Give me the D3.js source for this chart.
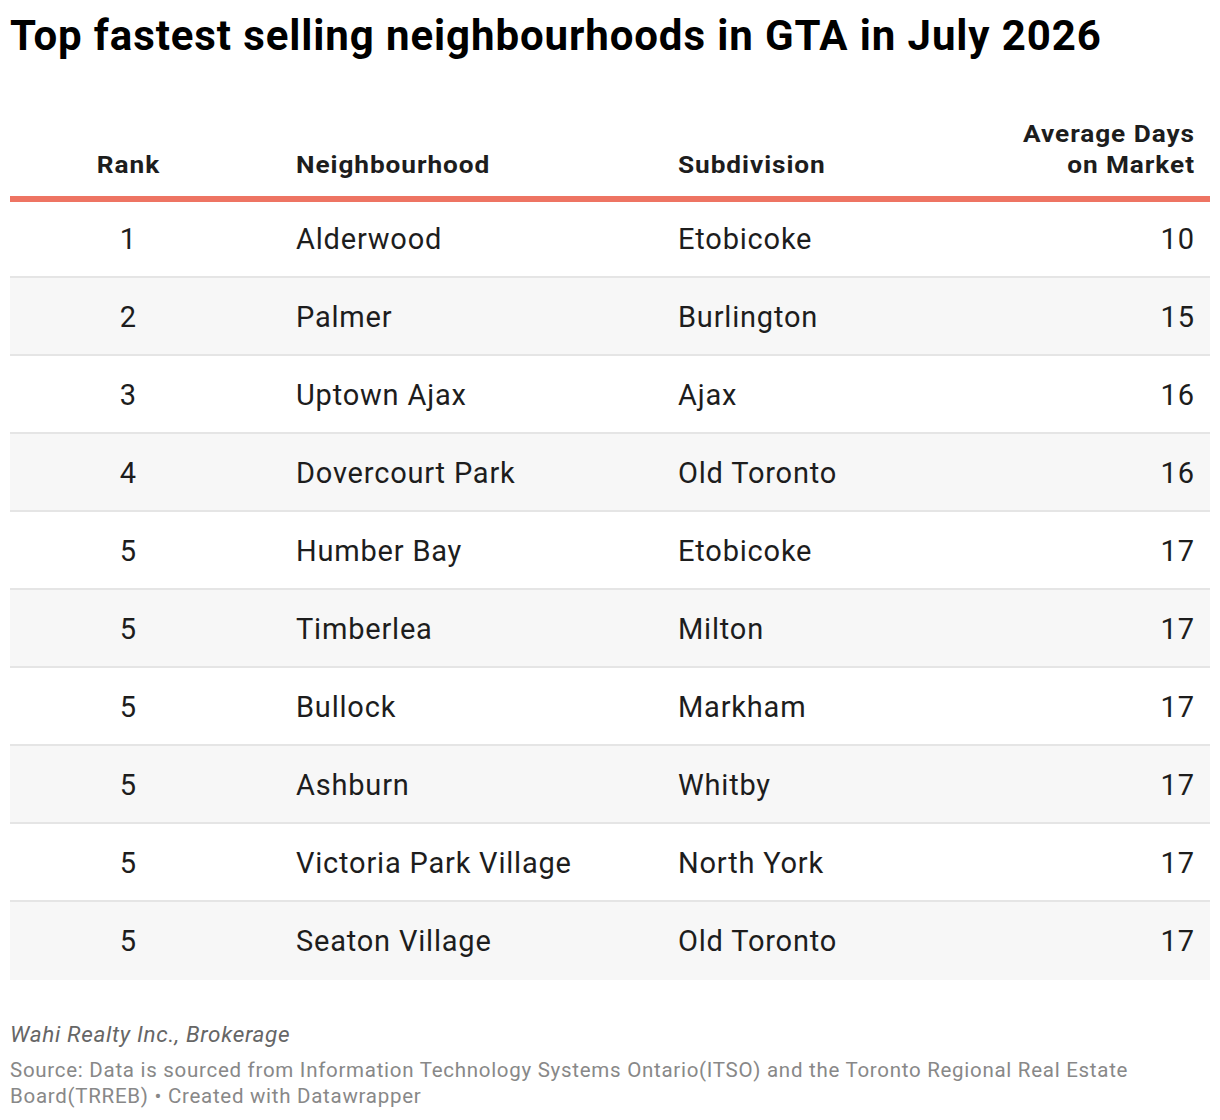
<!DOCTYPE html>
<html>
<head>
<meta charset="utf-8">
<script src="https://cdn.jsdelivr.net/npm/d3@7"></script>
<style>
  html, body { margin: 0; padding: 0; background: #fff; }
  svg { display: block; font-family: Roboto, "Noto Sans", sans-serif; }
</style>
</head>
<body>
<svg id="chart"></svg>
<script>
// Table data
const ranks = [1, 2, 3, 4, 5, 5, 5, 5, 5, 5];
const neighbourhoods = ['Alderwood', 'Palmer', 'Uptown Ajax', 'Dovercourt Park', 'Humber Bay',
  'Timberlea', 'Bullock', 'Ashburn', 'Victoria Park Village', 'Seaton Village'];
const subdivisions = ['Etobicoke', 'Burlington', 'Ajax', 'Old Toronto', 'Etobicoke',
  'Milton', 'Markham', 'Whitby', 'North York', 'Old Toronto'];
const avgDays = [10, 15, 16, 16, 17, 17, 17, 17, 17, 17];

const headers = ['Rank', 'Neighbourhood', 'Subdivision', ['Average Days', 'on Market']];
const title = 'Top fastest selling neighbourhoods in GTA in July 2026';
const byline = 'Wahi Realty Inc., Brokerage';
const sourceLines = [
  'Source: Data is sourced from Information Technology Systems Ontario(ITSO) and the Toronto Regional Real Estate',
  'Board(TRREB) \u2022 Created with Datawrapper'
];

const width = 1220, height = 1120;
const tableLeft = 10, tableRight = 1210;
const headTop = 200, rowH = 78;

const rows = ranks.map((r, i) => ({
  rank: r, hood: neighbourhoods[i], sub: subdivisions[i], days: avgDays[i], i
}));

const svg = d3.select('#chart')
  .attr('width', width)
  .attr('height', height);

// column positions
const cols = [
  { x: 128, anchor: 'middle', key: 'rank' },
  { x: 296, anchor: 'start', key: 'hood' },
  { x: 678, anchor: 'start', key: 'sub' },
  { x: 1194, anchor: 'end', key: 'days' }
];

// letter-spacing leaves a trailing gap, nudge anchored text back
const nudge = (anchor, ls) => anchor === 'end' ? ls : anchor === 'middle' ? ls / 2 : 0;

const y = d3.scaleBand()
  .domain(rows.map(d => d.i))
  .range([headTop, headTop + rowH * rows.length])
  .padding(0);

// title
svg.append('text')
  .attr('x', 10)
  .attr('y', 50)
  .attr('font-size', '42px')
  .attr('font-weight', 700)
  .attr('letter-spacing', '0.9px')
  .attr('fill', '#000')
  .text(title);

// header (glyphs a bit wider in the original, so stretch a little)
const headSX = 1.07, headLS = 0.88;
const head = svg.append('g').attr('class', 'header');
headers.forEach((h, c) => {
  const lines = Array.isArray(h) ? h : [h];
  lines.forEach((t, k) => {
    const hx = cols[c].x + nudge(cols[c].anchor, headLS * headSX);
    const hy = 173 - (lines.length - 1 - k) * 31;
    head.append('text')
      .attr('transform', `translate(${hx},${hy}) scale(${headSX},1)`)
      .attr('text-anchor', cols[c].anchor)
      .attr('font-size', '24.5px')
      .attr('font-weight', 700)
      .attr('letter-spacing', headLS + 'px')
      .attr('fill', '#1d1d1d')
      .text(t);
  });
});

// row backgrounds
const rowG = svg.append('g').selectAll('g.row')
  .data(rows)
  .join('g')
  .attr('class', 'row');

rowG.append('rect')
  .attr('x', tableLeft)
  .attr('y', d => y(d.i))
  .attr('width', tableRight - tableLeft)
  .attr('height', y.bandwidth())
  .attr('fill', d => d.i % 2 ? '#f7f7f7' : '#ffffff');

rowG.filter(d => d.i < rows.length - 1)
  .append('rect')
  .attr('x', tableLeft)
  .attr('y', d => y(d.i) + y.bandwidth() - 2)
  .attr('width', tableRight - tableLeft)
  .attr('height', 2)
  .attr('fill', '#e5e5e5');

const bodyLS = 0.8;
cols.forEach(c => {
  rowG.append('text')
    .attr('x', c.x + nudge(c.anchor, bodyLS))
    .attr('y', d => y(d.i) + y.bandwidth() / 2 + 10)
    .attr('text-anchor', c.anchor)
    .attr('font-size', '29px')
    .attr('letter-spacing', bodyLS + 'px')
    .attr('fill', '#1d1d1d')
    .text(d => d[c.key]);
});

// header rule
svg.append('rect')
  .attr('x', tableLeft)
  .attr('y', 196)
  .attr('width', tableRight - tableLeft)
  .attr('height', 6)
  .attr('fill', '#ee7463');

// footer
svg.append('text')
  .attr('x', 10)
  .attr('y', 1042)
  .attr('font-size', '22.5px')
  .attr('font-style', 'italic')
  .attr('letter-spacing', '0.67px')
  .attr('fill', '#666')
  .text(byline);

svg.append('g').selectAll('text')
  .data(sourceLines)
  .join('text')
  .attr('x', 10)
  .attr('y', (d, i) => 1077 + i * 26)
  .attr('font-size', '20.5px')
  .attr('letter-spacing', '0.72px')
  .attr('fill', '#888')
  .text(d => d);
</script>
</body>
</html>
